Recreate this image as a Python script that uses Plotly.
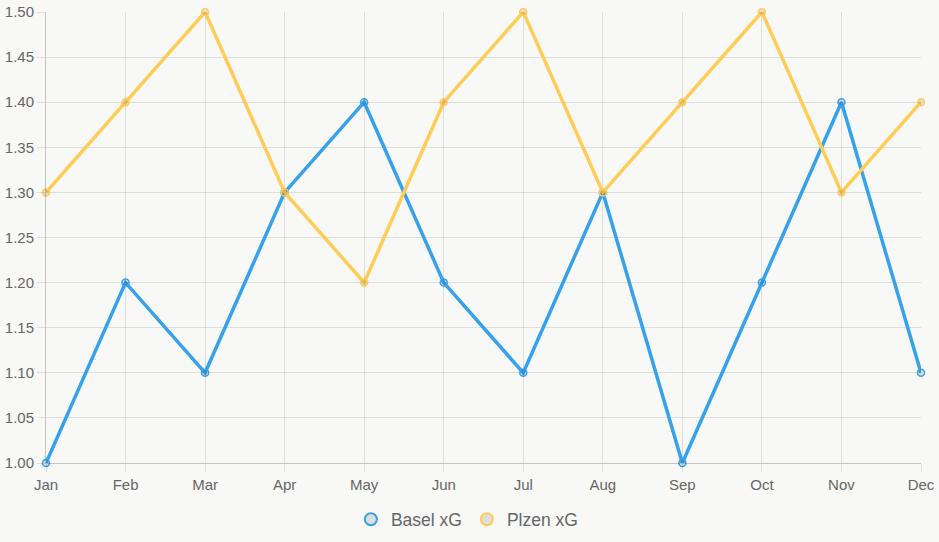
import plotly.graph_objects as go

months = ["Jan", "Feb", "Mar", "Apr", "May", "Jun", "Jul", "Aug", "Sep", "Oct", "Nov", "Dec"]
basel_xg = [1.0, 1.2, 1.1, 1.3, 1.4, 1.2, 1.1, 1.3, 1.0, 1.2, 1.4, 1.1]
plzen_xg = [1.3, 1.4, 1.5, 1.3, 1.2, 1.4, 1.5, 1.3, 1.4, 1.5, 1.3, 1.4]

BLUE = "#36A2EB"
YELLOW = "#FFCD56"
BG = "#f8f8f6"
GRID = "rgba(0,0,0,0.1)"
FONT = "Liberation Sans, Arial, sans-serif"

fig = go.Figure()
for name, vals, col in [("Basel xG", basel_xg, BLUE), ("Plzen xG", plzen_xg, YELLOW)]:
    fig.add_trace(go.Scatter(
        x=months, y=vals, mode="lines+markers", name=name, showlegend=False,
        line=dict(color=col, width=3.5),
        marker=dict(size=7, color="rgba(0,0,0,0.1)", line=dict(color=col, width=1.5)),
        cliponaxis=False,
    ))
# legend-only entries (circle swatches)
for name, col in [("Basel xG", BLUE), ("Plzen xG", YELLOW)]:
    fig.add_trace(go.Scatter(
        x=[None], y=[None], mode="markers", name=name,
        marker=dict(size=14, color="rgba(0,0,0,0.1)", line=dict(color=col, width=1.5)),
    ))

fig.update_layout(
    width=939, height=542,
    paper_bgcolor=BG, plot_bgcolor=BG,
    margin=dict(l=46, r=18, t=12, b=79, autoexpand=False),
    font=dict(family=FONT, color="#666", size=12),
    showlegend=True,
    legend=dict(orientation="h", x=0.481, xanchor="center", y=-0.085, yanchor="top",
                font=dict(size=17.5, color="#666"), itemsizing="constant", itemwidth=30,
                bgcolor="rgba(0,0,0,0)"),
    xaxis=dict(
        range=[0, 11], showgrid=True, gridcolor=GRID, gridwidth=1, automargin=False,
        ticks="outside", ticklen=8, tickcolor=GRID, showline=True, linecolor="rgba(0,0,0,0.2)",
        tickfont=dict(size=15, color="#666"), zeroline=False,
    ),
    yaxis=dict(
        range=[1.0, 1.5], dtick=0.05, tickformat=".2f", showgrid=True, gridcolor=GRID, gridwidth=1,
        automargin=False,
        ticks="outside", ticklen=8, tickcolor=GRID, showline=True, linecolor="rgba(0,0,0,0.2)",
        tickfont=dict(size=15, color="#666"), zeroline=False,
    ),
)

fig.write_html("out.html")
